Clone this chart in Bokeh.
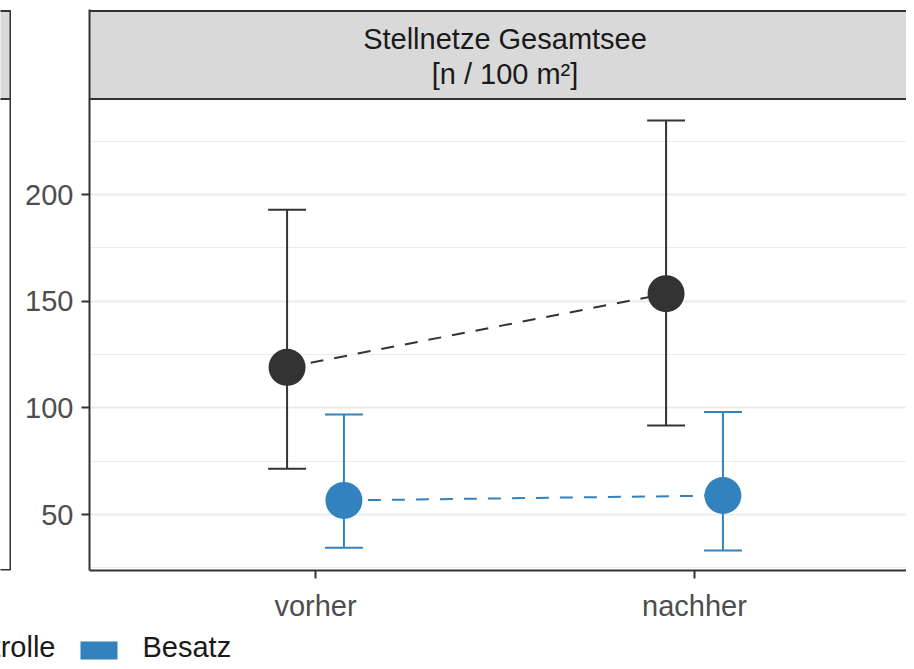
from bokeh.plotting import figure
from bokeh.layouts import column, row
from bokeh.models import Range1d, FixedTicker, ColumnDataSource
from bokeh.core.properties import value
from bokeh.embed import file_html
from bokeh.resources import INLINE

# ---------------- data ----------------
periods = ["vorher", "nachher"]
groups = ["Kontrolle", "Besatz"]
kontrolle_mean = [119.0, 153.5]
kontrolle_lower = [71.4, 91.7]
kontrolle_upper = [192.8, 234.7]
besatz_mean = [56.6, 58.9]
besatz_lower = [34.4, 33.1]
besatz_upper = [96.9, 98.0]
y_ticks = [50, 100, 150, 200]
y_minor_ticks = [25, 75, 125, 175, 225]
strip_lines = ["Stellnetze Gesamtsee", "[n / 100 m\u00b2]"]

# ---------------- styles ----------------
FONT = "Liberation Sans"
FS = "29px"
C_K = "#333333"
C_B = "#3182BD"
BORDER = "#333333"
STRIP_FILL = "#D9D9D9"
GRID = "#EBEBEB"

PX_PER_UNIT = 320 / 150.0
Y50_PX = 514.0
def y_at(px):
    return 50 + (Y50_PX - px) / PX_PER_UNIT

X1_PX, X_STEP = 315.0, 379.0
def x_at(px):
    return 1 + (px - X1_PX) / X_STEP

W, H_MAIN, H_LEG = 906, 625, 36
LEFT_W = 11
FRAME_TOP, FRAME_BOTTOM, FRAME_LEFT, FRAME_RIGHT = 9, 570, 89, W

# ---------------- main panel ----------------
p = figure(width=W - LEFT_W, height=H_MAIN, output_backend="svg", toolbar_location=None,
           x_range=Range1d(x_at(FRAME_LEFT), x_at(FRAME_RIGHT)),
           y_range=Range1d(y_at(FRAME_BOTTOM), y_at(FRAME_TOP)))
p.min_border_left = FRAME_LEFT - LEFT_W
p.min_border_right = 0
p.min_border_top = FRAME_TOP
p.min_border_bottom = H_MAIN - FRAME_BOTTOM
p.outline_line_color = None
p.background_fill_color = "white"
p.border_fill_color = "white"

p.xgrid.visible = False
p.ygrid.ticker = FixedTicker(ticks=y_ticks, minor_ticks=y_minor_ticks)
p.ygrid.grid_line_color = GRID
p.ygrid.grid_line_width = 2
p.ygrid.minor_grid_line_color = GRID
p.ygrid.minor_grid_line_width = 1

p.yaxis.ticker = FixedTicker(ticks=y_ticks)
p.xaxis.ticker = FixedTicker(ticks=[1, 2])
p.xaxis.major_label_overrides = {i + 1: lab for i, lab in enumerate(periods)}
for ax in (p.xaxis[0], p.yaxis[0]):
    ax.axis_line_color = BORDER
    ax.axis_line_width = 2
    ax.major_tick_line_color = BORDER
    ax.major_tick_line_width = 2
    ax.major_tick_out = 8
    ax.major_tick_in = 0
    ax.minor_tick_out = 0
    ax.minor_tick_in = 0
    ax.major_label_text_font = FONT
    ax.major_label_text_font_size = FS
    ax.major_label_text_color = "#4D4D4D"
p.yaxis.major_label_standoff = 8
p.xaxis.major_label_standoff = 11

# strip
xs0, xs1 = p.x_range.start - 1, p.x_range.end + 1
p.quad(left=[xs0], right=[xs1], bottom=[y_at(98.5)], top=[y_at(10.5)],
       fill_color=STRIP_FILL, line_color=BORDER, line_width=2)
p.text(x=[1.5, 1.5], y=[y_at(38), y_at(73)], text=strip_lines,
       text_font=value(FONT), text_font_size=FS, text_color="#1A1A1A",
       text_align="center", text_baseline="alphabetic")

# series
dodge = 0.075
cap = 0.05
series = [
    (kontrolle_mean, kontrolle_lower, kontrolle_upper, -dodge, C_K),
    (besatz_mean, besatz_lower, besatz_upper, dodge, C_B),
]
for mean, lo, hi, off, col in series:
    xs = [i + 1 + off for i in range(len(periods))]
    src = ColumnDataSource(dict(x=xs, m=mean, lo=lo, hi=hi,
                                x0=[x - cap for x in xs], x1=[x + cap for x in xs]))
    p.line(x="x", y="m", source=src, line_color=col, line_width=2, line_dash="13 11")
    p.segment(x0="x", y0="lo", x1="x", y1="hi", source=src, line_color=col, line_width=2)
    p.segment(x0="x0", y0="hi", x1="x1", y1="hi", source=src, line_color=col, line_width=2)
    p.segment(x0="x0", y0="lo", x1="x1", y1="lo", source=src, line_color=col, line_width=2)
    p.scatter(x="x", y="m", source=src, size=37, fill_color=col, line_color=None)

# ---------------- sliver of the neighbouring facet (left) ----------------
lf = figure(width=LEFT_W, height=H_MAIN, output_backend="svg", toolbar_location=None,
            x_axis_location=None, y_axis_location=None, title=None,
            x_range=Range1d(0, LEFT_W), y_range=Range1d(y_at(FRAME_BOTTOM), y_at(FRAME_TOP)))
lf.min_border_left = lf.min_border_right = 0
lf.min_border_top = FRAME_TOP
lf.min_border_bottom = H_MAIN - FRAME_BOTTOM
lf.outline_line_color = None
lf.grid.visible = False
lf.border_fill_color = "white"
lf.quad(left=[-5], right=[10], bottom=[y_at(98.5)], top=[y_at(10.5)],
        fill_color=STRIP_FILL, line_color=BORDER, line_width=2)
lf.line(x=[-5, 10, 10], y=[y_at(569.5), y_at(569.5), y_at(98.5)],
        line_color=BORDER, line_width=2)

# ---------------- legend row ----------------
leg = figure(width=W, height=H_LEG, output_backend="svg", toolbar_location=None,
             x_axis_location=None, y_axis_location=None, title=None,
             x_range=Range1d(0, W), y_range=Range1d(H_LEG, 0))
leg.min_border_left = leg.min_border_right = leg.min_border_top = leg.min_border_bottom = 0
leg.outline_line_color = None
leg.grid.visible = False
leg.border_fill_color = "white"
LEG_TOP = H_MAIN
leg.text(x=[55], y=[646 - LEG_TOP], text=[groups[0]], text_font=value(FONT), text_font_size=FS,
         text_color="#1A1A1A", text_align="right", text_baseline="alphabetic")
leg.quad(left=[80], right=[117], top=[641 - LEG_TOP], bottom=[659 - LEG_TOP],
         fill_color=C_B, line_color=None)
leg.text(x=[142], y=[646 - LEG_TOP], text=[groups[1]], text_font=value(FONT), text_font_size=FS,
         text_color="#1A1A1A", text_align="left", text_baseline="alphabetic")

layout = column(row(lf, p, spacing=0), leg, spacing=0)
open("out.html", "w").write(file_html(layout, INLINE))
